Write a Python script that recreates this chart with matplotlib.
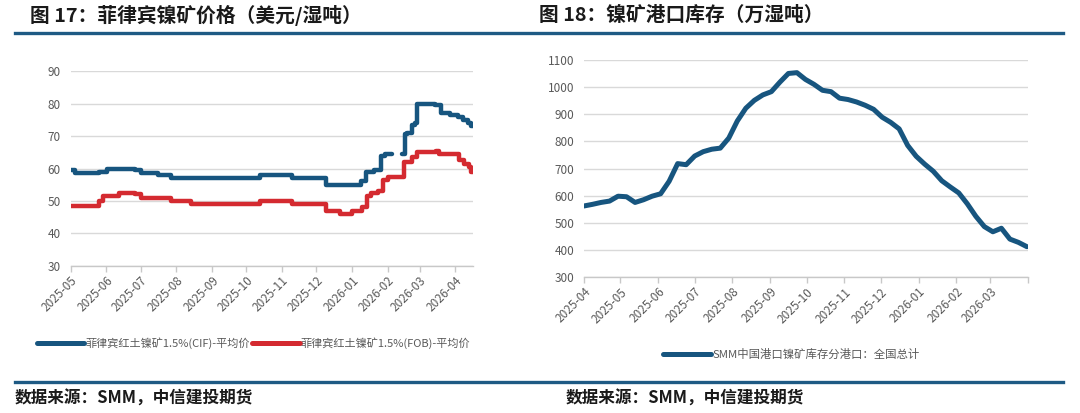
import matplotlib
matplotlib.use('Agg')
import matplotlib.pyplot as plt
import matplotlib.dates as mdates
import numpy as np
import pandas as pd
from matplotlib.lines import Line2D

plt.rcParams['font.family'] = ['Noto Sans CJK SC', 'DejaVu Sans']

# ---------------- data ----------------
title_left = '图 17：菲律宾镍矿价格（美元/湿吨）'
title_right = '图 18：镍矿港口库存（万湿吨）'
source_text = '数据来源：SMM，中信建投期货'

cif_label = '菲律宾红土镍矿1.5%(CIF)-平均价'
fob_label = '菲律宾红土镍矿1.5%(FOB)-平均价'
inv_label = 'SMM中国港口镍矿库存分港口：全国总计'

# step change points (date, value); NaN marks a gap in the series
cif_dates = ['2025-05-01', '2025-05-05', '2025-05-26', '2025-06-02', '2025-06-26',
             '2025-07-01', '2025-07-16', '2025-07-27', '2025-10-13', '2025-11-10',
             '2025-12-09', '2026-01-09', '2026-01-13', '2026-01-20', '2026-01-26',
             '2026-01-30', '2026-02-05', '2026-02-14', '2026-02-16', '2026-02-18',
             '2026-02-22', '2026-02-25', '2026-02-27', '2026-03-14', '2026-03-20',
             '2026-03-27', '2026-04-03', '2026-04-08', '2026-04-12', '2026-04-15']
cif_values = [59.5, 58.5, 59, 60, 59.5,
              58.5, 58, 57, 58, 57,
              55, 56, 59, 59.5, 64,
              64.5, np.nan, 64.5, 70.5, 71,
              73.5, 74, 80, 79.5, 77,
              76.5, 76, 75, 74, 73]

fob_dates = ['2025-05-01', '2025-05-26', '2025-05-29', '2025-06-12', '2025-06-26',
             '2025-07-01', '2025-07-27', '2025-08-14', '2025-10-13', '2025-11-10',
             '2025-12-09', '2025-12-22', '2026-01-01', '2026-01-10', '2026-01-14',
             '2026-01-18', '2026-01-24', '2026-01-28', '2026-02-01', '2026-02-15',
             '2026-02-22', '2026-02-27', '2026-03-15', '2026-03-18', '2026-04-04',
             '2026-04-09', '2026-04-13', '2026-04-15']
fob_values = [48.5, 50, 51.5, 52.5, 52,
              51, 50, 49, 50, 49,
              47, 46, 47, 48, 51.5,
              52.5, 53, 56.5, 57.5, 62,
              63.5, 65, 65.5, 64.5, 62.5,
              61.5, 60.5, 59]
price_start = '2025-05-01'
price_end = '2026-04-16'
price_yticks = [30, 40, 50, 60, 70, 80, 90]

inv_start = '2025-04-01'
inv_end = '2026-04-01'
inv_values = [562, 568, 575, 580, 598, 596, 575, 585, 598, 607,
              653, 718, 714, 746, 762, 771, 775, 812, 875, 922,
              951, 971, 983, 1018, 1050, 1053, 1028, 1010, 988, 983,
              959, 954, 945, 933, 918, 889, 870, 846, 785, 745,
              716, 690, 655, 632, 610, 570, 524, 486, 467, 480,
              440, 428, 412]
inv_yticks = [300, 400, 500, 600, 700, 800, 900, 1000, 1100]

# ---------------- style ----------------
BLUE = '#17557F'
RED = '#D42A30'
GRID = '#D9D9D9'
AXIS = '#C8C8C8'
TXT = '#595959'
RULE = '#1E5A84'

fig = plt.figure(figsize=(10.8, 4.13), dpi=100)

def style_axes(ax, labels):
    for s in ['top', 'right', 'left']:
        ax.spines[s].set_visible(False)
    ax.spines['bottom'].set_color(AXIS)
    ax.spines['bottom'].set_linewidth(1.0)
    ax.grid(axis='y', color=GRID, lw=1.0)
    ax.set_axisbelow(True)
    ax.tick_params(axis='y', length=0, pad=7, labelsize=8.5, labelcolor=TXT)
    ax.tick_params(axis='x', length=4, width=1, color=AXIS, pad=2,
                   labelsize=8.5, labelcolor=TXT)
    ax.set_xticklabels(labels, rotation=45, ha='right', rotation_mode='anchor')

# ---- left chart ----
ax1 = fig.add_axes([0.0654, 0.356, 0.3721, 0.472])
cd = pd.to_datetime(cif_dates + [price_end])
cv = cif_values + [cif_values[-1]]
fd = pd.to_datetime(fob_dates + [price_end])
fv = fob_values + [fob_values[-1]]
ax1.plot(cd, cv, drawstyle='steps-post', color=BLUE, lw=3.2,
         solid_capstyle='round', solid_joinstyle='round')
ax1.plot(fd, fv, drawstyle='steps-post', color=RED, lw=3.2,
         solid_capstyle='round', solid_joinstyle='round')
ax1.set_ylim(price_yticks[0], price_yticks[-1])
ax1.set_yticks(price_yticks)
ax1.set_xlim(pd.Timestamp(price_start), pd.Timestamp(price_end))
ticks1 = pd.date_range(price_start, '2026-04-01', freq='MS')
ax1.set_xticks(ticks1)
style_axes(ax1, [t.strftime('%Y-%m') for t in ticks1])

# ---- right chart ----
ax2 = fig.add_axes([0.5407, 0.329, 0.4113, 0.526])
inv_dates = pd.date_range(inv_start, periods=len(inv_values), freq='7D')
ax2.plot(inv_dates, inv_values, color=BLUE, lw=3.6,
         solid_capstyle='round', solid_joinstyle='round')
ax2.set_ylim(inv_yticks[0], inv_yticks[-1])
ax2.set_yticks(inv_yticks)
ax2.set_xlim(pd.Timestamp(inv_start), pd.Timestamp(inv_end))
ticks2 = pd.date_range(inv_start, inv_end, freq='MS')
ax2.set_xticks(ticks2)
style_axes(ax2, [t.strftime('%Y-%m') if t < pd.Timestamp(inv_end) else '' for t in ticks2])

# ---- legends ----
fig.legend(handles=[Line2D([], [], color=BLUE, lw=3.6, solid_capstyle='round'),
                    Line2D([], [], color=RED, lw=3.6, solid_capstyle='round')],
           labels=[cif_label, fob_label], loc='center left',
           bbox_to_anchor=(0.034, 0.169), ncol=2, frameon=False, fontsize=8.0,
           handlelength=4.3, handletextpad=0.1, columnspacing=0.15,
           borderpad=0, borderaxespad=0, labelcolor=TXT)
fig.legend(handles=[Line2D([], [], color=BLUE, lw=3.6, solid_capstyle='round')],
           labels=[inv_label], loc='center left',
           bbox_to_anchor=(0.614, 0.143), ncol=1, frameon=False, fontsize=8.2,
           handlelength=4.2, handletextpad=0.1,
           borderpad=0, borderaxespad=0, labelcolor=TXT)

# ---- titles, rules, sources ----
fig.text(0.028, 0.963, title_left, fontsize=14.2, fontweight='bold', color='#1A1A1A',
         ha='left', va='center')
fig.text(0.499, 0.963, title_right, fontsize=14.2, fontweight='bold', color='#1A1A1A',
         ha='left', va='center')
fig.add_artist(Line2D([0.0139, 0.984], [0.921, 0.921], transform=fig.transFigure,
                      color=RULE, lw=2.4))
fig.add_artist(Line2D([0.0139, 0.984], [0.075, 0.075], transform=fig.transFigure,
                      color=RULE, lw=2.4))
fig.text(0.0139, 0.035, source_text, fontsize=12, fontweight='bold', style='italic',
         color='#1A1A1A', ha='left', va='center')
fig.text(0.524, 0.035, source_text, fontsize=12, fontweight='bold', style='italic',
         color='#1A1A1A', ha='left', va='center')

fig.savefig('out.png', dpi=100)
